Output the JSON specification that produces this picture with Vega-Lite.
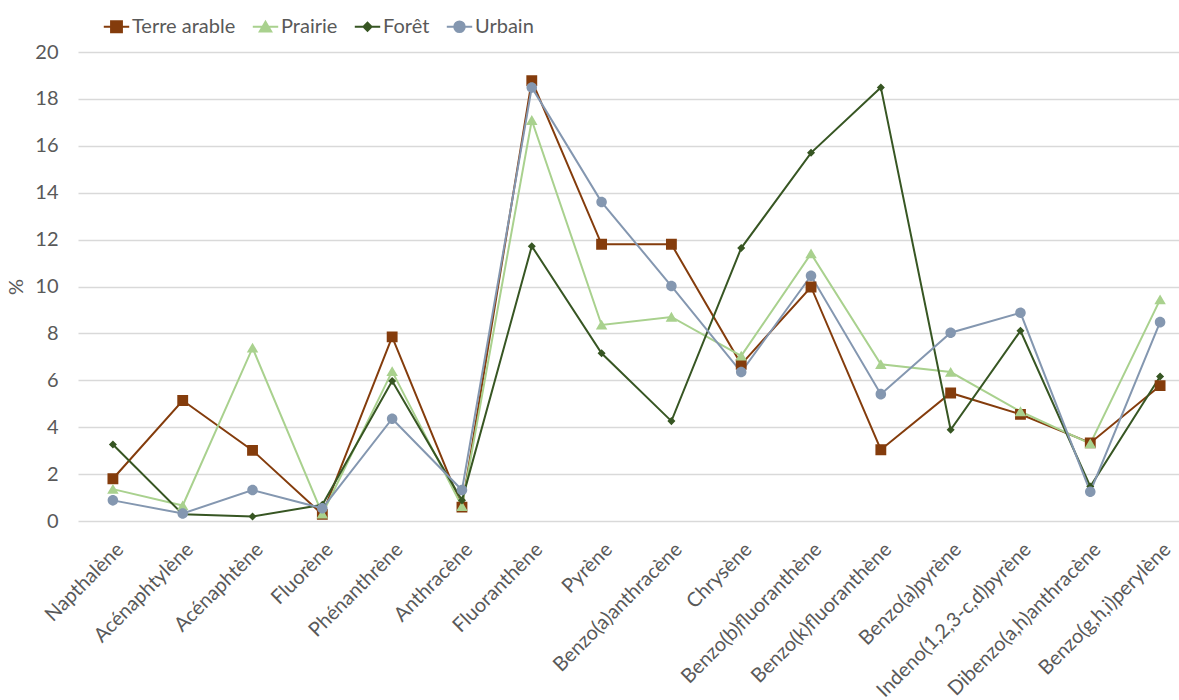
{
  "$schema": "https://vega.github.io/schema/vega-lite/v6.json",
  "autosize": {"type": "none"},
  "padding": {"left": 78, "top": 52, "right": 0, "bottom": 179},
  "width": 1117,
  "height": 469,
  "background": "white",
  "config": {
    "font": "Lato",
    "view": {"stroke": null},
    "axis": {
      "labelColor": "#595959",
      "titleColor": "#595959",
      "labelFont": "Lato",
      "titleFont": "Lato",
      "gridColor": "#d9d9d9",
      "gridWidth": 1.3,
      "ticks": false,
      "domain": false
    },
    "legend": {
      "labelFont": "Lato",
      "labelColor": "#595959",
      "title": null,
      "orient": "none",
      "legendX": 22,
      "legendY": -42,
      "direction": "horizontal",
      "columns": 4,
      "labelFontSize": 20,
      "labelOffset": -1,
      "columnPadding": 12,
      "symbolSize": 961,
      "symbolStrokeWidth": 2
    }
  },
  "data": {
    "values": [
      {"compose": "Napthalène", "serie": "Terre arable", "valeur": 1.8},
      {"compose": "Acénaphtylène", "serie": "Terre arable", "valeur": 5.14},
      {"compose": "Acénaphtène", "serie": "Terre arable", "valeur": 3.01},
      {"compose": "Fluorène", "serie": "Terre arable", "valeur": 0.28},
      {"compose": "Phénanthrène", "serie": "Terre arable", "valeur": 7.85},
      {"compose": "Anthracène", "serie": "Terre arable", "valeur": 0.59},
      {"compose": "Fluoranthène", "serie": "Terre arable", "valeur": 18.78},
      {"compose": "Pyrène", "serie": "Terre arable", "valeur": 11.8},
      {"compose": "Benzo(a)anthracène", "serie": "Terre arable", "valeur": 11.8},
      {"compose": "Chrysène", "serie": "Terre arable", "valeur": 6.68},
      {"compose": "Benzo(b)fluoranthène", "serie": "Terre arable", "valeur": 9.98},
      {"compose": "Benzo(k)fluoranthène", "serie": "Terre arable", "valeur": 3.04},
      {"compose": "Benzo(a)pyrène", "serie": "Terre arable", "valeur": 5.46},
      {"compose": "Indeno(1,2,3-c,d)pyrène", "serie": "Terre arable", "valeur": 4.55},
      {"compose": "Dibenzo(a,h)anthracène", "serie": "Terre arable", "valeur": 3.33},
      {"compose": "Benzo(g,h,i)perylène", "serie": "Terre arable", "valeur": 5.77},

      {"compose": "Napthalène", "serie": "Prairie", "valeur": 1.36},
      {"compose": "Acénaphtylène", "serie": "Prairie", "valeur": 0.66},
      {"compose": "Acénaphtène", "serie": "Prairie", "valeur": 7.38},
      {"compose": "Fluorène", "serie": "Prairie", "valeur": 0.3},
      {"compose": "Phénanthrène", "serie": "Prairie", "valeur": 6.38},
      {"compose": "Anthracène", "serie": "Prairie", "valeur": 0.62},
      {"compose": "Fluoranthène", "serie": "Prairie", "valeur": 17.09},
      {"compose": "Pyrène", "serie": "Prairie", "valeur": 8.36},
      {"compose": "Benzo(a)anthracène", "serie": "Prairie", "valeur": 8.7},
      {"compose": "Chrysène", "serie": "Prairie", "valeur": 7.04},
      {"compose": "Benzo(b)fluoranthène", "serie": "Prairie", "valeur": 11.4},
      {"compose": "Benzo(k)fluoranthène", "serie": "Prairie", "valeur": 6.68},
      {"compose": "Benzo(a)pyrène", "serie": "Prairie", "valeur": 6.35},
      {"compose": "Indeno(1,2,3-c,d)pyrène", "serie": "Prairie", "valeur": 4.67},
      {"compose": "Dibenzo(a,h)anthracène", "serie": "Prairie", "valeur": 3.3},
      {"compose": "Benzo(g,h,i)perylène", "serie": "Prairie", "valeur": 9.44},

      {"compose": "Napthalène", "serie": "Forêt", "valeur": 3.26},
      {"compose": "Acénaphtylène", "serie": "Forêt", "valeur": 0.29},
      {"compose": "Acénaphtène", "serie": "Forêt", "valeur": 0.19},
      {"compose": "Fluorène", "serie": "Forêt", "valeur": 0.69},
      {"compose": "Phénanthrène", "serie": "Forêt", "valeur": 5.97},
      {"compose": "Anthracène", "serie": "Forêt", "valeur": 0.88},
      {"compose": "Fluoranthène", "serie": "Forêt", "valeur": 11.72},
      {"compose": "Pyrène", "serie": "Forêt", "valeur": 7.15},
      {"compose": "Benzo(a)anthracène", "serie": "Forêt", "valeur": 4.26},
      {"compose": "Chrysène", "serie": "Forêt", "valeur": 11.64},
      {"compose": "Benzo(b)fluoranthène", "serie": "Forêt", "valeur": 15.7},
      {"compose": "Benzo(k)fluoranthène", "serie": "Forêt", "valeur": 18.49},
      {"compose": "Benzo(a)pyrène", "serie": "Forêt", "valeur": 3.89},
      {"compose": "Indeno(1,2,3-c,d)pyrène", "serie": "Forêt", "valeur": 8.11},
      {"compose": "Dibenzo(a,h)anthracène", "serie": "Forêt", "valeur": 1.47},
      {"compose": "Benzo(g,h,i)perylène", "serie": "Forêt", "valeur": 6.16},

      {"compose": "Napthalène", "serie": "Urbain", "valeur": 0.88},
      {"compose": "Acénaphtylène", "serie": "Urbain", "valeur": 0.32},
      {"compose": "Acénaphtène", "serie": "Urbain", "valeur": 1.32},
      {"compose": "Fluorène", "serie": "Urbain", "valeur": 0.54},
      {"compose": "Phénanthrène", "serie": "Urbain", "valeur": 4.36},
      {"compose": "Anthracène", "serie": "Urbain", "valeur": 1.32},
      {"compose": "Fluoranthène", "serie": "Urbain", "valeur": 18.49},
      {"compose": "Pyrène", "serie": "Urbain", "valeur": 13.6},
      {"compose": "Benzo(a)anthracène", "serie": "Urbain", "valeur": 10.02},
      {"compose": "Chrysène", "serie": "Urbain", "valeur": 6.35},
      {"compose": "Benzo(b)fluoranthène", "serie": "Urbain", "valeur": 10.46},
      {"compose": "Benzo(k)fluoranthène", "serie": "Urbain", "valeur": 5.41},
      {"compose": "Benzo(a)pyrène", "serie": "Urbain", "valeur": 8.03},
      {"compose": "Indeno(1,2,3-c,d)pyrène", "serie": "Urbain", "valeur": 8.88},
      {"compose": "Dibenzo(a,h)anthracène", "serie": "Urbain", "valeur": 1.25},
      {"compose": "Benzo(g,h,i)perylène", "serie": "Urbain", "valeur": 8.48}
    ]
  },
  "encoding": {
    "x": {
      "field": "compose",
      "type": "nominal",
      "sort": ["Napthalène", "Acénaphtylène", "Acénaphtène", "Fluorène", "Phénanthrène", "Anthracène", "Fluoranthène", "Pyrène", "Benzo(a)anthracène", "Chrysène", "Benzo(b)fluoranthène", "Benzo(k)fluoranthène", "Benzo(a)pyrène", "Indeno(1,2,3-c,d)pyrène", "Dibenzo(a,h)anthracène", "Benzo(g,h,i)perylène"],
      "scale": {"type": "point", "padding": 0.5},
      "axis": {"title": null, "labelAngle": -45, "labelFontSize": 20, "labelPadding": 18, "grid": false, "labelOverlap": false, "labelLimit": 0}
    },
    "y": {
      "field": "valeur",
      "type": "quantitative",
      "scale": {"domain": [0, 20], "nice": false},
      "axis": {"title": "%", "values": [0, 2, 4, 6, 8, 10, 12, 14, 16, 18, 20], "labelFontSize": 20, "labelPadding": 20, "titleFontSize": 20, "titleFontWeight": "normal", "titlePadding": 8}
    },
    "stroke": {
      "field": "serie",
      "type": "nominal",
      "scale": {"domain": ["Terre arable", "Prairie", "Forêt", "Urbain"], "range": ["#843C0C", "#A9D18E", "#375623", "#8497B0"]}
    }
  },
  "layer": [
    {
      "mark": {"type": "line", "strokeWidth": 2}
    },
    {
      "mark": {"type": "point", "filled": true, "size": 961, "strokeWidth": 0, "opacity": 1},
      "encoding": {
        "fill": {
          "field": "serie",
          "type": "nominal",
          "scale": {"domain": ["Terre arable", "Prairie", "Forêt", "Urbain"], "range": ["#843C0C", "#A9D18E", "#375623", "#8497B0"]}
        },
        "shape": {
          "field": "serie",
          "type": "nominal",
          "scale": {
            "domain": ["Terre arable", "Prairie", "Forêt", "Urbain"],
            "range": [
              "M-0.82,0H0.82M-0.35,-0.35H0.35V0.35H-0.35Z",
              "M-0.82,0H0.82M0,-0.33L0.37,0.3L-0.37,0.3Z",
              "M-0.82,0H0.82M0,-0.26L0.26,0L0,0.26L-0.26,0Z",
              "M-0.82,0H0.82M-0.34,0A0.34,0.34,0,1,0,0.34,0A0.34,0.34,0,1,0,-0.34,0Z"
            ]
          }
        }
      }
    }
  ]
}
